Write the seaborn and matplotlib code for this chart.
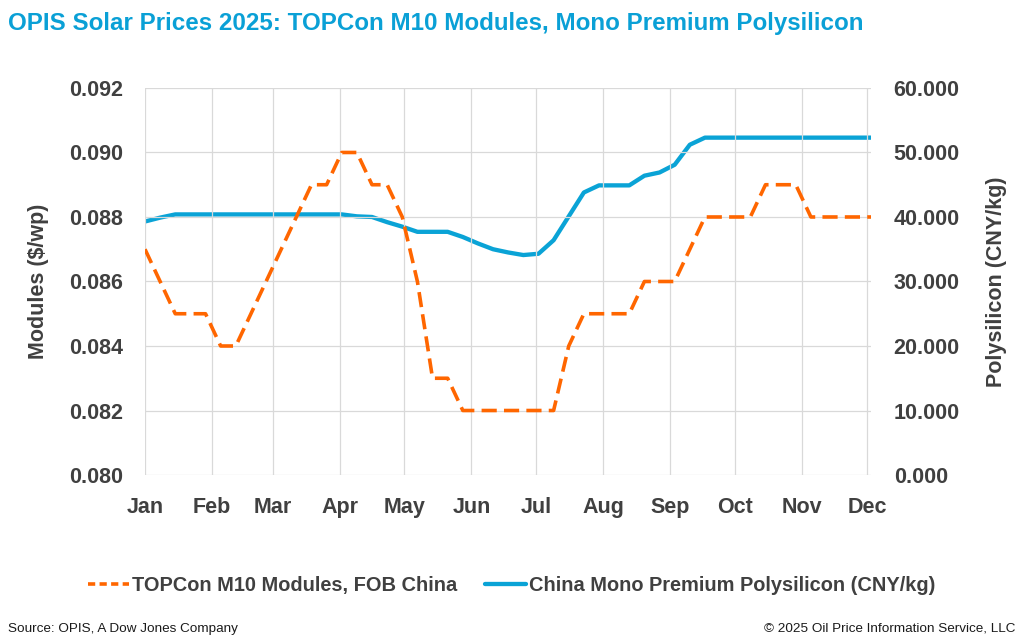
import numpy as np
import pandas as pd
import seaborn as sns
import matplotlib.pyplot as plt
import matplotlib.dates as mdates
from matplotlib.lines import Line2D

# %% data (weekly)
week_start = "2025-01-01"
n_weeks = 49

modules = [0.087, 0.086, 0.085, 0.085, 0.085, 0.084, 0.084, 0.085, 0.086, 0.087,
           0.088, 0.089, 0.089, 0.090, 0.090, 0.089, 0.089, 0.088, 0.086, 0.083,
           0.083, 0.082, 0.082, 0.082, 0.082, 0.082, 0.082, 0.082, 0.084, 0.085,
           0.085, 0.085, 0.085, 0.086, 0.086, 0.086, 0.087, 0.088, 0.088, 0.088,
           0.088, 0.089, 0.089, 0.089, 0.088, 0.088, 0.088, 0.088, 0.088]

polysilicon = [39.3, 39.9, 40.4, 40.4, 40.4, 40.4, 40.4, 40.4, 40.4, 40.4,
               40.4, 40.4, 40.4, 40.4, 40.1, 40.0, 39.2, 38.5, 37.7, 37.7,
               37.7, 36.9, 35.9, 35.0, 34.5, 34.1, 34.3, 36.4, 40.1, 43.8,
               44.9, 44.9, 44.9, 46.4, 46.9, 48.1, 51.2, 52.3, 52.3, 52.3,
               52.3, 52.3, 52.3, 52.3, 52.3, 52.3, 52.3, 52.3, 52.3]

label_modules = "TOPCon M10 Modules, FOB China"
label_poly = "China Mono Premium Polysilicon (CNY/kg)"

left_ticks = [0.080, 0.082, 0.084, 0.086, 0.088, 0.090, 0.092]
right_ticks = [0, 10, 20, 30, 40, 50, 60]

df = pd.DataFrame({
    "date": pd.date_range(week_start, periods=n_weeks, freq="7D"),
    "modules": modules,
    "poly": polysilicon,
})

# %% style
sns.set_style("white")
plt.rcParams['font.family'] = ['Liberation Sans', 'DejaVu Sans']

orange = "#FF6600"
blue = "#0AA3D6"
text_c = "#404040"
grid_c = "#D9D9D9"

fig = plt.figure(figsize=(10.24, 6.44), dpi=100)
ax = fig.add_axes([0.1416, 0.2624, 0.7094, 0.601])
ax2 = ax.twinx()

sns.lineplot(data=df, x="date", y="modules", ax=ax, color=orange,
             linewidth=2.6, dashes=False, zorder=3)
ax.lines[0].set_dashes((4.2, 2.0))
sns.lineplot(data=df, x="date", y="poly", ax=ax2, color=blue,
             linewidth=3.1, zorder=3)

# axes ranges
ax.set_xlim(pd.Timestamp("2025-01-01"), pd.Timestamp("2025-12-03"))
ax.set_ylim(0.080, 0.092)
ax2.set_ylim(0, 60)
ax.set_yticks(left_ticks)
ax2.set_yticks(right_ticks)
ax.yaxis.set_major_formatter(plt.FuncFormatter(lambda v, p: f"{v:.3f}"))
ax2.yaxis.set_major_formatter(plt.FuncFormatter(lambda v, p: f"{v:.3f}"))

months = pd.date_range("2025-01-01", "2025-12-01", freq="MS")
ax.set_xticks(months)
ax.xaxis.set_major_formatter(mdates.DateFormatter("%b"))

# grid
ax.grid(True, color=grid_c, linewidth=0.9)
ax.set_axisbelow(True)
ax2.grid(False)
for a in (ax, ax2):
    for s in a.spines.values():
        s.set_visible(False)
    a.tick_params(length=0, labelsize=15.5, labelcolor=text_c)
    for lab in a.get_xticklabels() + a.get_yticklabels():
        lab.set_fontweight("bold")
ax.tick_params(axis="y", pad=16)
ax.tick_params(axis="x", pad=16)
ax2.tick_params(axis="y", pad=16)
ax.set_zorder(ax2.get_zorder() + 1)
ax.patch.set_visible(False)

ax.set_xlabel("")
ax.set_ylabel("Modules ($/wp)", fontsize=15.5, fontweight="bold",
              color=text_c, labelpad=14)
ax2.set_ylabel("Polysilicon (CNY/kg)", fontsize=15.5, fontweight="bold",
               color=text_c, labelpad=19)

# title and footer
fig.text(0.008, 0.963, "OPIS Solar Prices 2025: TOPCon M10 Modules, Mono Premium Polysilicon",
         fontsize=17.4, fontweight="bold", color="#0AA0D6", ha="left", va="center")
fig.text(0.008, 0.024, "Source: OPIS, A Dow Jones Company", fontsize=9.7,
         color="#1a1a1a", ha="left", va="center")
fig.text(0.992, 0.024, "\u00a9 2025 Oil Price Information Service, LLC", fontsize=9.7,
         color="#1a1a1a", ha="right", va="center")

handles = [Line2D([], [], color=orange, linewidth=2.6, dashes=(2.0, 1.2)),
           Line2D([], [], color=blue, linewidth=3.1)]
leg = fig.legend(handles, [label_modules, label_poly], loc="center",
                 bbox_to_anchor=(0.5, 0.091), ncol=2, frameon=False,
                 handlelength=2.05, handletextpad=0.15, columnspacing=1.4,
                 prop={"size": 14.4, "weight": "bold"})
for t in leg.get_texts():
    t.set_color(text_c)

fig.savefig("out.png", dpi=100)
